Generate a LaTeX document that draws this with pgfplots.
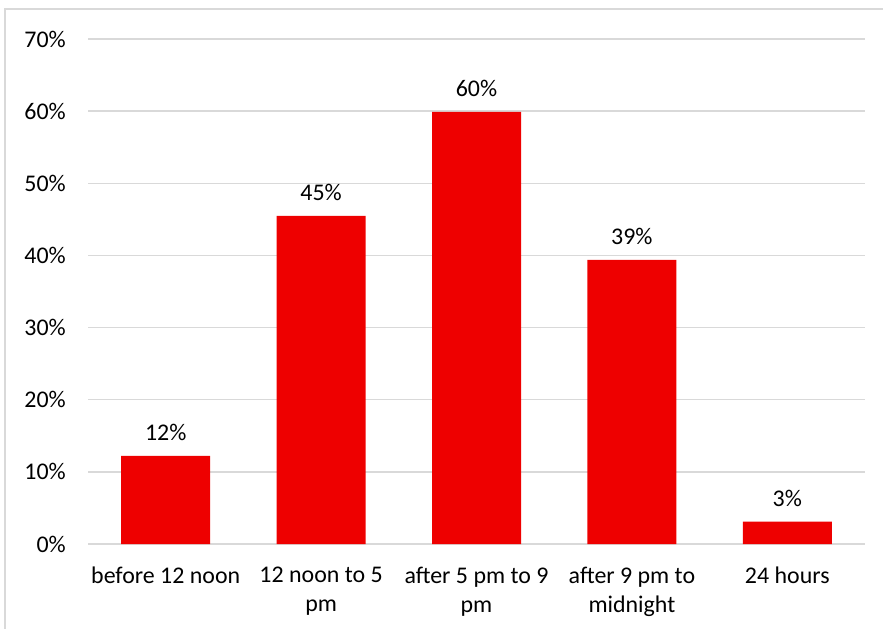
\documentclass[border=0pt]{standalone}
\usepackage{pgfplots}
\pgfplotsset{compat=1.18}
\usepackage{fontspec}
\setmainfont{Carlito}
\definecolor{barred}{RGB}{238,0,0}
\definecolor{gridgray}{RGB}{217,217,217}
\begin{document}
\begin{tikzpicture}
\path[use as bounding box] (0,0) rectangle (883bp,629bp);
\begin{scope}
\clip (0,0) rectangle (883bp,629bp);
\draw[gridgray, line width=1.5bp] (5bp,620bp) rectangle (900bp,-20bp);
\end{scope}
\begin{axis}[
  at={(88bp,85bp)}, anchor=south west,
  scale only axis, width=777bp, height=505bp,
  xmin=-0.5, xmax=4.5, ymin=0, ymax=70,
  ytick={0,10,...,70},
  yticklabel={\pgfmathprintnumber{\tick}\%},
  /pgf/number format/assume math mode=true,
  xtick={0,1,2,3,4},
  xticklabels={before 12 noon, 12 noon to 5\\pm, after 5 pm to 9\\pm, after 9 pm to\\midnight, 24 hours},
  xticklabel style={align=center, anchor=north, inner sep=0pt, yshift=-23bp},
  yticklabel style={anchor=east, inner sep=0pt, xshift=-22bp},
  font=\fontsize{24}{29}\selectfont,
  ymajorgrids, grid style={gridgray, line width=1.3bp},
  axis line style={draw=none},
  major tick length=0pt,
  axis x line*=bottom, axis y line*=left,
  bar width=89bp,
  ybar,
  point meta=explicit symbolic,
  nodes near coords,
  nodes near coords style={anchor=base, inner sep=0pt, yshift=15bp, font=\fontsize{24}{29}\selectfont, black},
  clip=false,
]
\draw[gridgray, line width=1.5bp] (axis cs:-0.5,0) -- (axis cs:4.5,0);
\addplot[fill=barred, draw=none] coordinates {
  (0,12.2) [12\%]
  (1,45.5) [45\%]
  (2,59.9) [60\%]
  (3,39.4) [39\%]
  (4,3.1) [3\%]
};
\end{axis}
\end{tikzpicture}
\end{document}
